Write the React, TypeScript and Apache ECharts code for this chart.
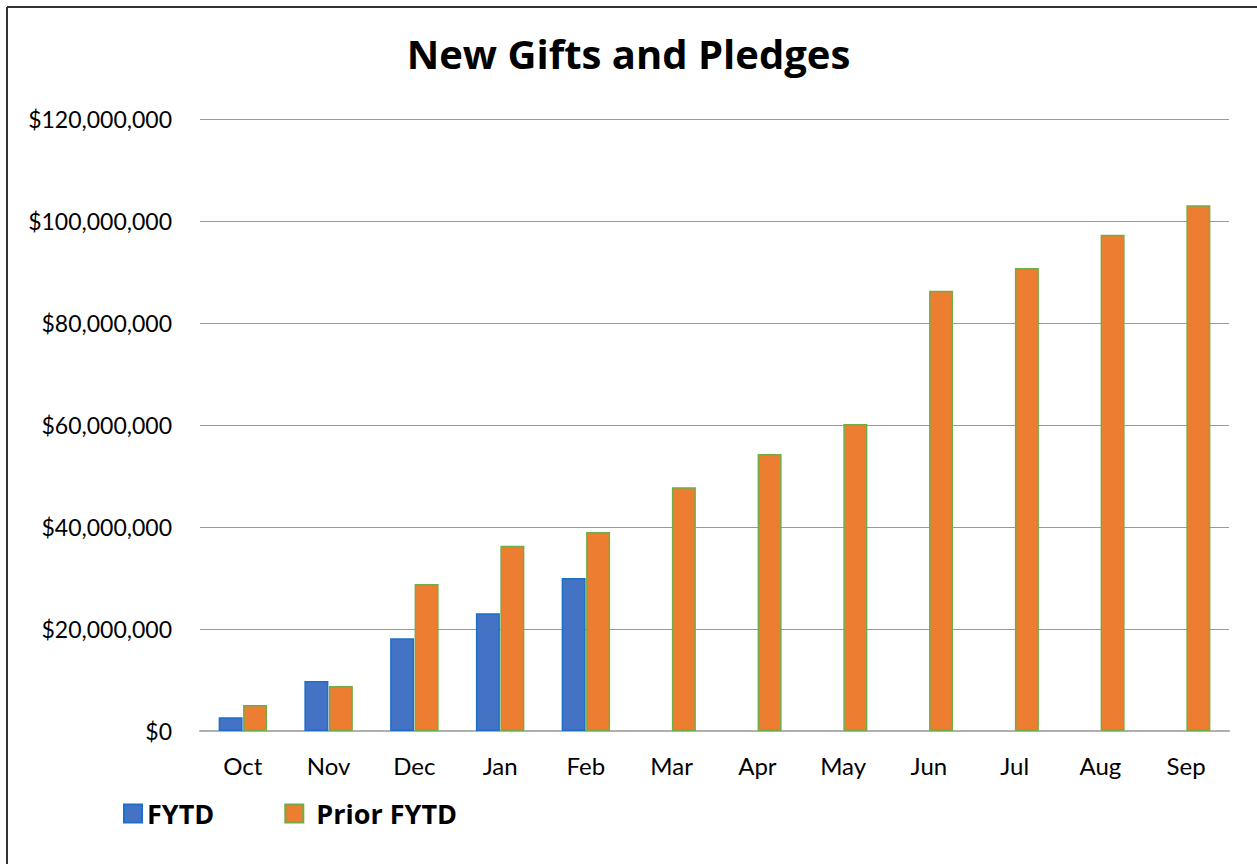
import React, { useEffect, useRef } from "react";
import * as echarts from "echarts";

const categories = ["Oct", "Nov", "Dec", "Jan", "Feb", "Mar", "Apr", "May", "Jun", "Jul", "Aug", "Sep"];
const fytd = [2700000, 9800000, 18200000, 23100000, 30000000, null, null, null, null, null, null, null];
const priorFytd = [5100000, 8800000, 28800000, 36300000, 39000000, 47800000, 54300000, 60200000, 86300000, 90800000, 97300000, 103100000];

const FONT = "Lato, 'Open Sans', sans-serif";
const BOLD_FONT = "'Open Sans', Lato, sans-serif";

function fmt(v: number) {
  return "$" + v.toLocaleString("en-US");
}

export default function App() {
  const ref = useRef<HTMLDivElement>(null);
  useEffect(() => {
    if (!ref.current) return;
    const chart = echarts.init(ref.current, null, { renderer: "svg" });
    const legendText = { fontFamily: BOLD_FONT, fontSize: 27, fontWeight: "bold", color: "#000" };
    chart.setOption({
      animation: false,
      backgroundColor: "#ffffff",
      title: {
        text: "New Gifts and Pledges",
        left: "center",
        top: 28,
        textStyle: { fontFamily: BOLD_FONT, fontSize: 40, fontWeight: "bold", color: "#000" },
      },
      graphic: [
        { type: "line", shape: { x1: 7, y1: 7, x2: 1257, y2: 7 }, style: { stroke: "#333", lineWidth: 2 } },
        { type: "line", shape: { x1: 7, y1: 7, x2: 7, y2: 864 }, style: { stroke: "#333", lineWidth: 2 } },
      ],
      legend: {
        left: 118,
        top: 795,
        itemWidth: 18,
        itemHeight: 18,
        itemGap: 70,
        icon: "rect",
        formatter: (name: string) => (name === "Prior FYTD" ? "{p|" + name + "}" : name),
        textStyle: {
          ...legendText,
          rich: { p: { ...legendText, padding: [0, 0, 0, 8] } },
        },
        data: ["FYTD", "Prior FYTD"],
      },
      grid: { left: 200, right: 28, top: 119, bottom: 133, containLabel: false },
      xAxis: {
        type: "category",
        data: categories,
        axisTick: { show: false },
        axisLine: { lineStyle: { color: "#b0b0b0", width: 2 } },
        axisLabel: { fontFamily: FONT, fontSize: 24, color: "#000", margin: 22 },
      },
      yAxis: {
        type: "value",
        min: 0,
        max: 120000000,
        interval: 20000000,
        axisLabel: { fontFamily: FONT, fontSize: 23, color: "#000", margin: 28, formatter: (v: number) => fmt(v) },
        splitLine: { lineStyle: { color: "#9a9a9a", width: 1 } },
        axisLine: { show: false },
        axisTick: { show: false },
      },
      series: [
        {
          name: "FYTD",
          type: "bar",
          data: fytd,
          barWidth: 24,
          barGap: "2%",
          itemStyle: { color: "#4472C4", borderColor: "#1E6FC8", borderWidth: 1.5 },
        },
        {
          name: "Prior FYTD",
          type: "bar",
          data: priorFytd,
          barWidth: 24,
          itemStyle: { color: "#ED7D31", borderColor: "#70AD47", borderWidth: 1.5 },
        },
      ],
    });
    return () => chart.dispose();
  }, []);
  return <div ref={ref} style={{ position: "fixed", left: 0, top: 0, width: 1257, height: 864 }} />;
}
